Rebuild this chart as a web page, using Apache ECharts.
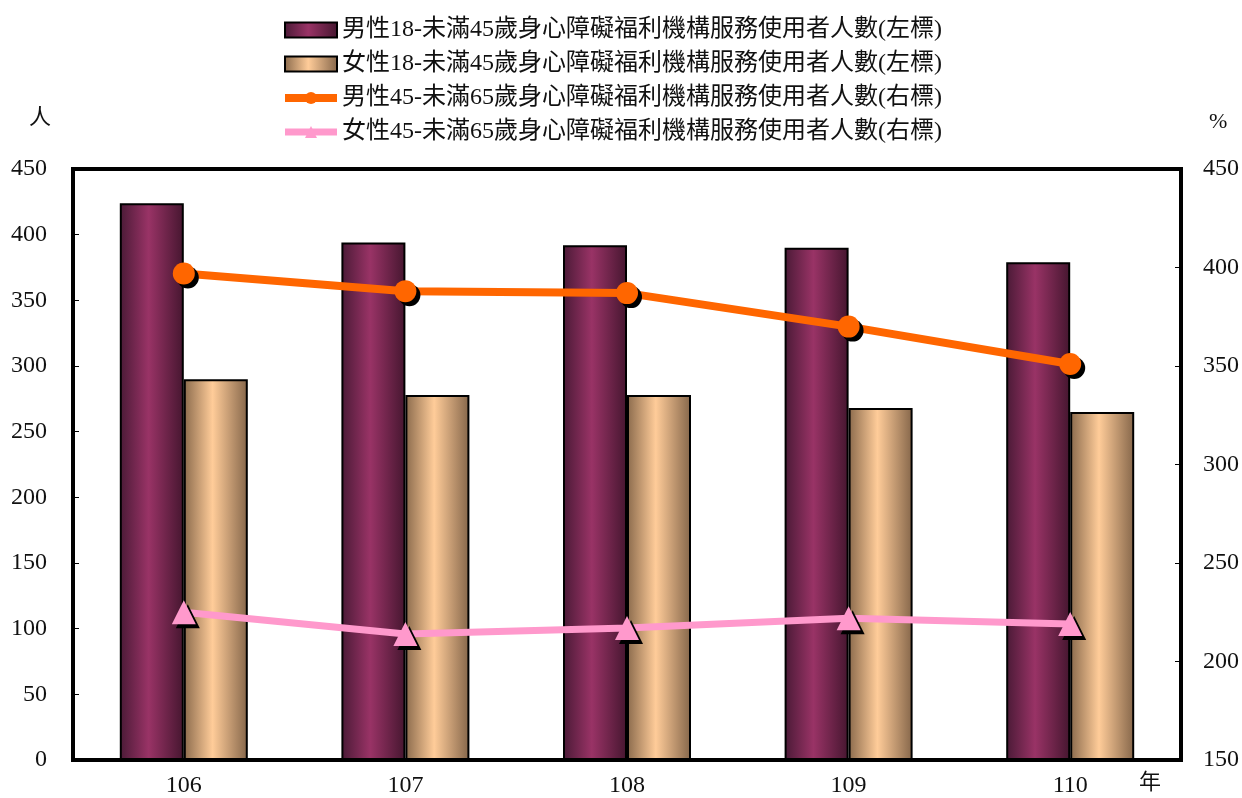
<!DOCTYPE html>
<html>
<head>
<meta charset="utf-8">
<script src="https://cdn.jsdelivr.net/npm/echarts@6/dist/echarts.min.js"></script>
<style>
html,body{margin:0;padding:0;background:#fff;}
#main{width:1242px;height:798px;}
</style>
</head>
<body>
<div id="main"></div>
<script>
const categories = ['106', '107', '108', '109', '110'];
const male18_45 = [424, 394, 392, 390, 379];
const female18_45 = [290, 278, 278, 268, 265];
const male45_65 = [397, 388, 387, 370, 351];
const female45_65 = [225, 214, 217, 222, 219];
const seriesNames = [
  '男性18-未滿45歲身心障礙福利機構服務使用者人數(左標)',
  '女性18-未滿45歲身心障礙福利機構服務使用者人數(左標)',
  '男性45-未滿65歲身心障礙福利機構服務使用者人數(右標)',
  '女性45-未滿65歲身心障礙福利機構服務使用者人數(右標)'
];

const FONT = "'Liberation Serif', 'Noto Sans CJK TC', serif";
const maleGrad = new echarts.graphic.LinearGradient(0, 0, 1, 0, [
  {offset: 0, color: '#4a1a36'},
  {offset: 0.45, color: '#993366'},
  {offset: 1, color: '#45162f'}
]);
const femaleGrad = new echarts.graphic.LinearGradient(0, 0, 1, 0, [
  {offset: 0, color: '#8a6a4c'},
  {offset: 0.45, color: '#ffcc99'},
  {offset: 1, color: '#85664a'}
]);

const chart = echarts.init(document.getElementById('main'));
chart.setOption({
  animation: false,
  textStyle: {fontFamily: FONT},
  legend: {
    orient: 'vertical',
    left: 276,
    top: 13,
    itemGap: 10,
    itemWidth: 52,
    itemHeight: 15,
    textStyle: {fontFamily: FONT, fontSize: 24, color: '#111'},
    data: [
      {name: seriesNames[0], icon: 'rect', itemStyle: {color: maleGrad, borderColor: '#000', borderWidth: 2}},
      {name: seriesNames[1], icon: 'rect', itemStyle: {color: femaleGrad, borderColor: '#000', borderWidth: 2}},
      {name: seriesNames[2], lineStyle: {width: 8, color: '#ff6600'}, itemStyle: {color: '#ff6600', shadowBlur: 0, shadowOffsetX: 0, shadowOffsetY: 0}},
      {name: seriesNames[3], lineStyle: {width: 7, color: '#ff99cc'}, itemStyle: {color: '#ff99cc', shadowBlur: 0, shadowOffsetX: 0, shadowOffsetY: 0}}
    ]
  },
  grid: {
    left: 73, right: 59, top: 169, bottom: 38,
    show: true, borderColor: '#000', borderWidth: 4, containLabel: false
  },
  xAxis: {
    type: 'category',
    data: categories,
    name: '年',
    nameLocation: 'end',
    nameGap: -42,
    nameTextStyle: {fontFamily: FONT, fontSize: 22, color: '#111', align: 'left', verticalAlign: 'top', padding: [12, 0, 0, 0]},
    axisLine: {lineStyle: {color: '#000', width: 4}},
    axisTick: {inside: true, length: 6, lineStyle: {color: '#000', width: 1}},
    axisLabel: {fontFamily: FONT, fontSize: 24, color: '#111', margin: 14}
  },
  yAxis: [
    {
      type: 'value', min: 0, max: 450, interval: 50,
      name: '人', nameLocation: 'end', nameGap: 40,
      nameTextStyle: {fontFamily: FONT, fontSize: 22, color: '#111', align: 'right', padding: [0, 22, 0, 0]},
      axisLine: {show: true, lineStyle: {color: '#000', width: 4}},
      axisTick: {show: true, inside: true, length: 6, lineStyle: {color: '#000', width: 1}},
      axisLabel: {fontFamily: FONT, fontSize: 24, color: '#111', margin: 26},
      splitLine: {show: false}
    },
    {
      type: 'value', min: 150, max: 450, interval: 50,
      name: '%', nameLocation: 'end', nameGap: 36,
      nameTextStyle: {fontFamily: FONT, fontSize: 22, color: '#111', align: 'left', padding: [0, 0, 0, 28]},
      axisLine: {show: true, lineStyle: {color: '#000', width: 4}},
      axisTick: {show: true, inside: true, length: 6, lineStyle: {color: '#000', width: 1}},
      axisLabel: {fontFamily: FONT, fontSize: 24, color: '#111', margin: 22},
      splitLine: {show: false}
    }
  ],
  series: [
    {
      name: seriesNames[0], type: 'bar', yAxisIndex: 0, data: male18_45,
      barWidth: 64, barGap: '0%',
      itemStyle: {color: maleGrad, borderColor: '#000', borderWidth: 2}
    },
    {
      name: seriesNames[1], type: 'bar', yAxisIndex: 0, data: female18_45,
      barWidth: 64, barGap: '0%',
      itemStyle: {color: femaleGrad, borderColor: '#000', borderWidth: 2}
    },
    {
      name: seriesNames[2], type: 'line', yAxisIndex: 1, data: male45_65,
      symbol: 'circle', symbolSize: 22, z: 5,
      lineStyle: {color: '#ff6600', width: 8},
      itemStyle: {color: '#ff6600', shadowColor: '#000', shadowOffsetX: 4, shadowOffsetY: 4, shadowBlur: 0}
    },
    {
      name: seriesNames[3], type: 'line', yAxisIndex: 1, data: female45_65,
      symbol: 'triangle', symbolSize: 24, z: 5,
      lineStyle: {color: '#ff99cc', width: 7},
      itemStyle: {color: '#ff99cc', shadowColor: '#000', shadowOffsetX: 4, shadowOffsetY: 4, shadowBlur: 0}
    }
  ]
});
</script>
</body>
</html>
